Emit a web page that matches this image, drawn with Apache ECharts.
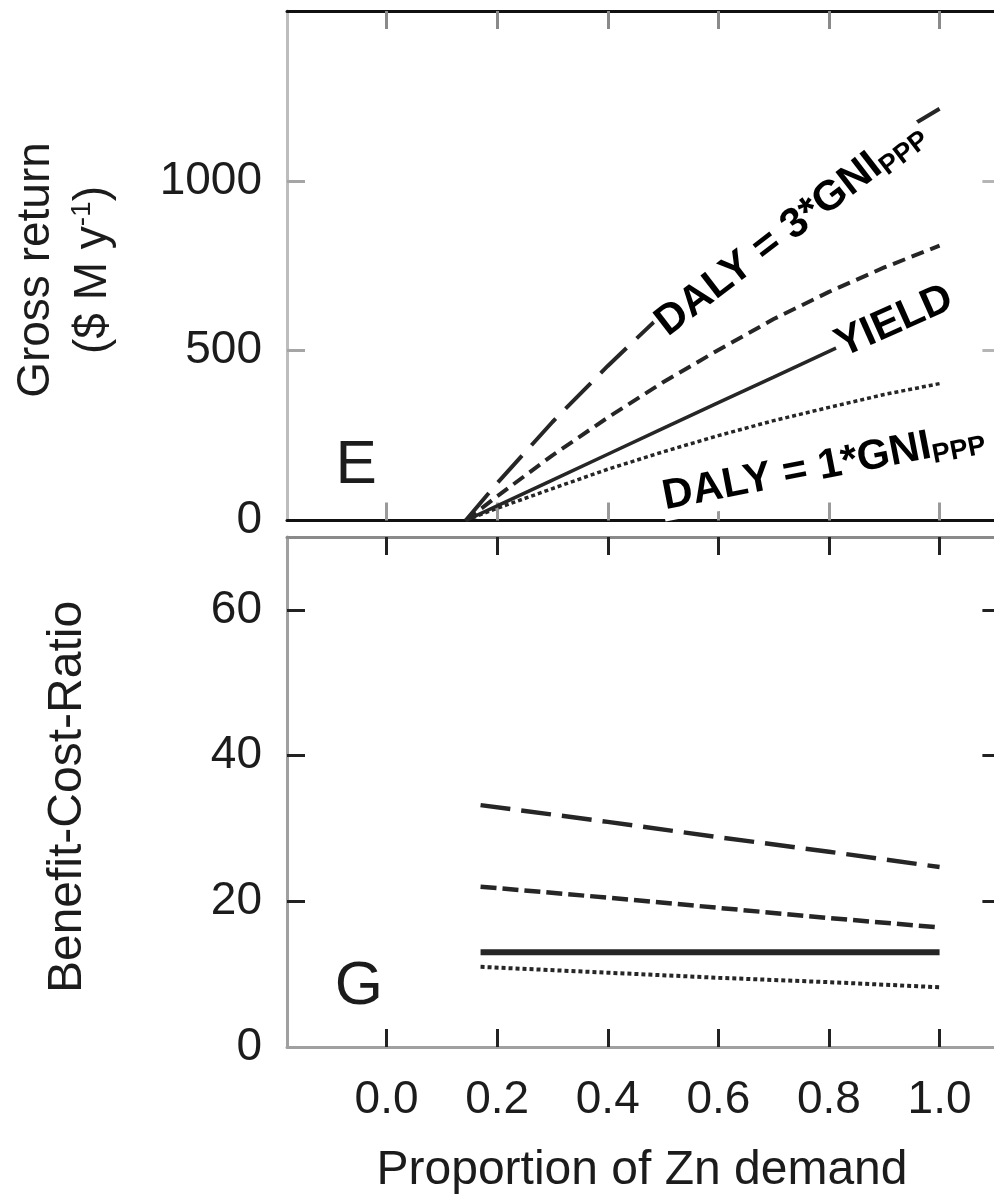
<!DOCTYPE html>
<html>
<head>
<meta charset="utf-8">
<script src="https://cdn.jsdelivr.net/npm/echarts@6/dist/echarts.min.js"></script>
<style>
  html, body { margin: 0; padding: 0; background: #fff; }
  #main { width: 994px; height: 1195px; }
</style>
</head>
<body>
<div id="main"></div>
<script>
// panel E: gross return ($ M y-1) against proportion of Zn demand
var propGR = [0.143, 0.2, 0.3, 0.4, 0.5, 0.6, 0.7, 0.8, 0.9, 1.0];
var grDaly3 = [0, 110, 290, 455, 610, 755, 890, 1010, 1115, 1212];
var grDaly2 = [0, 71, 192, 303, 407, 502, 593, 673, 745, 809];
var grYield = [0, 43, 119, 195, 271, 347, 422, 498, 574, 650];
var grDaly1 = [0, 36, 94, 151, 202, 250, 294, 333, 371, 403];

// panel G: benefit-cost-ratio
var propBCR = [0.17, 0.4, 0.6, 0.8, 1.0];
var bcrDaly3 = [33.2, 30.9, 28.8, 26.8, 24.7];
var bcrDaly2 = [22.0, 20.5, 19.1, 17.7, 16.4];
var bcrYield = [13.0, 13.0, 13.0, 13.0, 13.0];
var bcrDaly1 = [11.0, 10.2, 9.5, 8.9, 8.2];

var xTicks = [0, 0.2, 0.4, 0.6, 0.8, 1.0];
var grTicks = [500, 1000];
var grLabels = [0, 500, 1000];
var bcrTicks = [20, 40, 60];
var bcrLabels = [0, 20, 40, 60];

var FONT = "'Liberation Sans', Arial, sans-serif";
var INK = '#1c1c1c';

function zip(xs, ys) {
  return xs.map(function (x, i) { return [x, ys[i]]; });
}

var chartDom = document.getElementById('main');
var myChart = echarts.init(chartDom);

function xAx(grid, pos, lineColor, tickColor, labels) {
  return {
    gridIndex: grid,
    type: 'value',
    position: pos,
    min: -0.18,
    max: 1.11,
    axisLine: { show: true, onZero: false, lineStyle: { color: lineColor, width: 3 } },
    axisTick: { show: true, inside: true, length: 18, customValues: xTicks, lineStyle: { color: tickColor, width: 3 } },
    axisLabel: labels ? {
      show: true, customValues: xTicks, margin: 30,
      fontSize: 46, fontFamily: FONT, color: INK,
      formatter: function (v) { return v.toFixed(1); }
    } : { show: false },
    splitLine: { show: false }
  };
}

function yAx(grid, pos, max, ticks, labels, lineColor, tickColor) {
  return {
    gridIndex: grid,
    type: 'value',
    position: pos,
    min: 0,
    max: max,
    axisLine: { show: true, onZero: false, lineStyle: { color: lineColor, width: 3 } },
    axisTick: { show: true, inside: true, length: 18, customValues: ticks, lineStyle: { color: tickColor, width: 3 } },
    axisLabel: labels ? {
      show: true, customValues: labels, margin: 25,
      fontSize: 46, fontFamily: FONT, color: INK,
      formatter: function (v) { return String(v); }
    } : { show: false },
    splitLine: { show: false }
  };
}

function line(name, xi, data, type, width) {
  return {
    name: name,
    type: 'line',
    xAxisIndex: xi,
    yAxisIndex: xi,
    data: data,
    symbol: 'none',
    silent: true,
    lineStyle: { color: '#262626', width: width, type: type, cap: 'butt' },
    z: 3
  };
}

var option = {
  animation: false,
  backgroundColor: '#fff',
  grid: [
    { left: 287, top: 11, width: 713.4, height: 509.5, outerBoundsMode: 'none' },
    { left: 287, top: 537, width: 713.4, height: 510, outerBoundsMode: 'none' }
  ],
  xAxis: [
    xAx(0, 'bottom', '#111', '#9a9a9a', false),
    xAx(0, 'top', '#111', '#8a8a8a', false),
    xAx(1, 'bottom', '#a0a0a0', '#222', true),
    xAx(1, 'top', '#8a8a8a', '#222', false)
  ],
  yAxis: [
    yAx(0, 'left', 1500, grTicks, grLabels, '#bdbdbd', '#a5a5a5'),
    yAx(0, 'right', 1500, grTicks, null, '#bdbdbd', '#b5b5b5'),
    yAx(1, 'left', 70, bcrTicks, bcrLabels, '#a0a0a0', '#222'),
    yAx(1, 'right', 70, bcrTicks, null, '#a0a0a0', '#222')
  ],
  series: [
    line('DALY = 3*GNI', 0, zip(propGR, grDaly3), [36, 14], 4),
    line('DALY = 2*GNI', 0, zip(propGR, grDaly2), [13, 7], 4),
    line('YIELD', 0, zip(propGR, grYield), 'solid', 3.5),
    line('DALY = 1*GNI', 0, zip(propGR, grDaly1), [4, 3], 3.5),
    line('DALY = 3*GNI', 2, zip(propBCR, bcrDaly3), [30, 11], 4.5),
    line('DALY = 2*GNI', 2, zip(propBCR, bcrDaly2), [16, 6], 4.5),
    line('YIELD', 2, zip(propBCR, bcrYield), 'solid', 6),
    line('DALY = 1*GNI', 2, zip(propBCR, bcrDaly1), [4, 3], 4)
  ]
};

myChart.setOption(option);

// annotations anchored in data space of panel E
function at(grid, pt) {
  return myChart.convertToPixel({ gridIndex: grid }, pt);
}

function curveLabel(grid, pt, deg, text) {
  var p = at(grid, pt);
  return {
    type: 'text',
    x: p[0], y: p[1],
    rotation: deg * Math.PI / 180,
    z: 10,
    style: {
      text: text,
      align: 'center',
      verticalAlign: 'middle',
      fill: '#000',
      backgroundColor: '#fff',
      padding: [0, 2, 0, 2],
      rich: {
        m: { fontSize: 42, fontWeight: 'bold', fontFamily: FONT, fill: '#000' },
        s: { fontSize: 27, fontWeight: 'bold', fontFamily: FONT, fill: '#000', padding: [20, 0, 0, 0] }
      }
    }
  };
}

function plainText(x, y, deg, text, size, rich) {
  return {
    type: 'text',
    x: x, y: y,
    rotation: deg * Math.PI / 180,
    z: 10,
    style: {
      text: text,
      align: 'center',
      verticalAlign: 'middle',
      fontSize: size,
      fontFamily: FONT,
      fill: INK,
      rich: rich || {}
    }
  };
}

var pE = at(0, [-0.055, 160]);
var pG = at(1, [-0.05, 8.3]);

myChart.setOption({
  graphic: [
    curveLabel(0, [0.73, 860], 37.5, '{m|DALY = 3*GNI}{s|PPP}'),
    curveLabel(0, [0.918, 585], 24, '{m|YIELD}'),
    curveLabel(0, [0.79, 158], 11, '{m|DALY = 1*GNI}{s|PPP}'),
    plainText(pE[0], pE[1], 0, 'E', 62),
    plainText(pG[0], pG[1], 0, 'G', 62),
    plainText(36, 270, 90, 'Gross return', 46),
    plainText(93, 270, 90, '{a|($ M y}{b|-1}{a|)}', 46, {
      a: { fontSize: 46, fontFamily: FONT, fill: INK },
      b: { fontSize: 28, fontFamily: FONT, fill: INK, padding: [0, 0, 22, 0] }
    }),
    plainText(68, 797, 90, 'Benefit-Cost-Ratio', 48),
    plainText(642, 1171, 0, 'Proportion of Zn demand', 48)
  ]
});
</script>
</body>
</html>
